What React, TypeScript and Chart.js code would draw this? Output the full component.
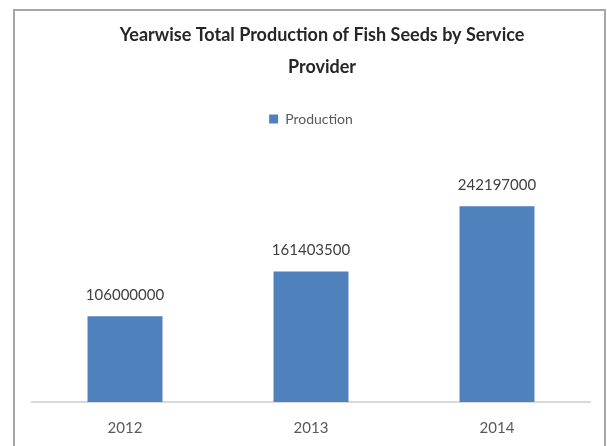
import React, { useEffect, useRef } from "react";
import { Chart, registerables } from "chart.js";

Chart.register(...registerables);

const categories = ["2012", "2013", "2014"];
const productionValues = [106000000, 161403500, 242197000];
const titleLines = ["Yearwise Total Production of Fish Seeds by Service", "Provider"];
const seriesName = "Production";
const axisMax = 329000000;

const FONT = "Lato, 'Open Sans', sans-serif";

const framePlugin = {
  id: "frame",
  beforeDraw(chart: any) {
    const ctx = chart.ctx;
    ctx.save();
    ctx.fillStyle = "#ffffff";
    ctx.fillRect(0, 0, chart.width, chart.height);
    ctx.strokeStyle = "#a6a6a6";
    ctx.lineWidth = 2;
    ctx.beginPath();
    ctx.moveTo(14, chart.height);
    ctx.lineTo(14, 10);
    ctx.lineTo(605, 10);
    ctx.lineTo(605, chart.height);
    ctx.stroke();
    ctx.restore();
  },
  afterDraw(chart: any) {
    const ctx = chart.ctx;
    ctx.save();
    ctx.fillStyle = "#262626";
    ctx.font = `bold 18px ${FONT}`;
    ctx.textAlign = "center";
    ctx.textBaseline = "middle";
    ctx.fillText(titleLines[0], 322, 35);
    ctx.fillText(titleLines[1], 322, 67);
    ctx.restore();
  },
};

const valueLabelPlugin = {
  id: "valueLabels",
  afterDatasetsDraw(chart: any) {
    const ctx = chart.ctx;
    const meta = chart.getDatasetMeta(0);
    const data = chart.data.datasets[0].data;
    ctx.save();
    ctx.fillStyle = "#404040";
    ctx.font = `15px ${FONT}`;
    ctx.textAlign = "center";
    ctx.textBaseline = "middle";
    meta.data.forEach((bar: any, i: number) => {
      ctx.fillText(String(data[i]), bar.x, bar.y - 21);
    });
    ctx.restore();
  },
};

export default function App() {
  const canvasRef = useRef<HTMLCanvasElement | null>(null);

  useEffect(() => {
    if (!canvasRef.current) return;
    const chart = new Chart(canvasRef.current, {
      type: "bar",
      data: {
        labels: categories,
        datasets: [
          {
            label: seriesName,
            data: productionValues,
            backgroundColor: "#4f81bd",
            borderWidth: 0,
            barPercentage: 0.403,
            categoryPercentage: 1,
          },
        ],
      },
      options: {
        animation: false,
        responsive: true,
        maintainAspectRatio: false,
        layout: { padding: { left: 32, right: 17, top: 83, bottom: -8 } },
        plugins: {
          title: { display: false },
          tooltip: { enabled: false },
          legend: {
            display: true,
            position: "top",
            labels: {
              boxWidth: 9,
              boxHeight: 9,
              padding: 29,
              color: "#595959",
              font: { family: FONT, size: 14 },
            },
          },
        },
        scales: {
          x: {
            grid: { display: false, drawTicks: false },
            border: { display: true, color: "#d9d9d9", width: 2 },
            ticks: {
              color: "#595959",
              padding: 17,
              font: { family: FONT, size: 15 },
            },
          },
          y: {
            display: false,
            min: 0,
            max: axisMax,
          },
        },
      },
      plugins: [framePlugin, valueLabelPlugin],
    });
    return () => chart.destroy();
  }, []);

  return (
    <div style={{ position: "fixed", left: 0, top: 0, width: 607, height: 446, background: "#fff" }}>
      <canvas ref={canvasRef} />
    </div>
  );
}
